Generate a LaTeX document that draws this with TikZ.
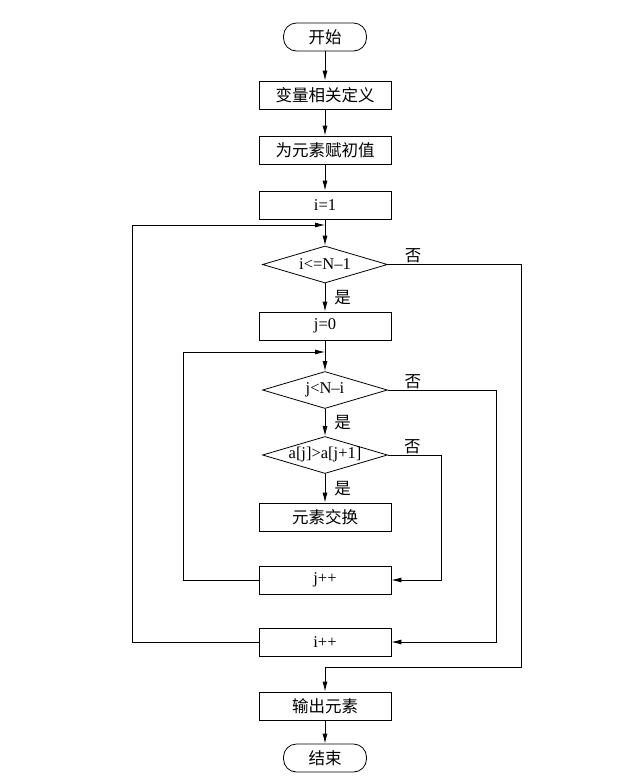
\documentclass[tikz,border=0pt]{standalone}
\usepackage{fontspec}
\setmainfont{Liberation Serif}
\newfontfamily\cjk{Noto Sans CJK SC}
\usetikzlibrary{arrows.meta}
\usetikzlibrary{shapes.geometric}

\begin{document}
\begin{tikzpicture}[x=1pt,y=-1pt]
    \tikzset{line/.style={line width=0.8pt}};
    \tikzset{arr/.style={line, -{Latex[length=10pt,width=5pt]}}};
    \tikzset{txt/.style={font=\fontsize{16.5}{19}\selectfont}};
    \tikzset{proc/.style={draw, line, txt, minimum width=132pt, minimum height=28pt, inner sep=0pt}};
    \tikzset{term/.style={draw, line, txt, rounded corners=13pt, minimum width=83pt, minimum height=28pt, inner sep=0pt}};
    \tikzset{cond/.style={draw, line, txt, diamond, shape aspect=3.4, minimum width=125pt, minimum height=37pt, inner xsep=-25pt, inner ysep=-6pt}};
    \tikzset{lbl/.style={txt, inner sep=1pt}};

    \useasboundingbox (0,0) rectangle (642,780);

    % main column
    \node[term] (start) at (325,37) {\cjk 开始};
    \node[proc] (def) at (325,95) {\cjk 变量相关定义};
    \node[proc] (init) at (325,150) {\cjk 为元素赋初值};
    \node[proc] (i1) at (325,205) {i=1};
    \node[cond] (d1) at (325,264.5) {i<=N--1};
    \node[proc] (j0) at (325,326) {j=0};
    \node[cond] (d2) at (325,390) {j<N--i};
    \node[cond] (d3) at (325,455) {a[j]>a[j+1]};
    \node[proc] (swap) at (325,517) {\cjk 元素交换};
    \node[proc] (jpp) at (325,580) {j++};
    \node[proc] (ipp) at (325,642) {i++};
    \node[proc] (out) at (325,706) {\cjk 输出元素};
    \node[term] (end) at (325,758) {\cjk 结束};

    % loop corners
    \coordinate (c1) at (325,225);
    \coordinate (c2) at (325,352);
    \coordinate (ex) at (325,667);
    \coordinate (l1) at (132,0);
    \coordinate (l2) at (183,0);
    \coordinate (r1) at (521,0);
    \coordinate (r2) at (496,0);
    \coordinate (r3) at (441,0);

    \draw[arr] (start) -- (def);
    \draw[arr] (def) -- (init);
    \draw[arr] (init) -- (i1);
    \draw[arr] (i1) -- (d1);
    \draw[arr] (d1) -- node[lbl, right, xshift=8pt] {\cjk 是} (j0);
    \draw[arr] (j0) -- (d2);
    \draw[arr] (d2) -- node[lbl, right, xshift=8pt] {\cjk 是} (d3);
    \draw[arr] (d3) -- node[lbl, right, xshift=8pt] {\cjk 是} (swap);
    \draw[arr] (out) -- (end);

    % no branches
    \draw[arr] (d1.east) -- node[lbl, above, pos=0.19] {\cjk 否} (d1.east -| r1) |- (ex) -- (out);
    \draw[arr] (d2.east) -- node[lbl, above, pos=0.23] {\cjk 否} (d2.east -| r2) |- (ipp.east);
    \draw[arr] (d3.east) -- node[lbl, above, pos=0.46] {\cjk 否} (d3.east -| r3) |- (jpp.east);

    % loop back
    \draw[arr] (jpp.west) -- (jpp.west -| l2) |- (c2);
    \draw[arr] (ipp.west) -- (ipp.west -| l1) |- (c1);
\end{tikzpicture}
\end{document}
